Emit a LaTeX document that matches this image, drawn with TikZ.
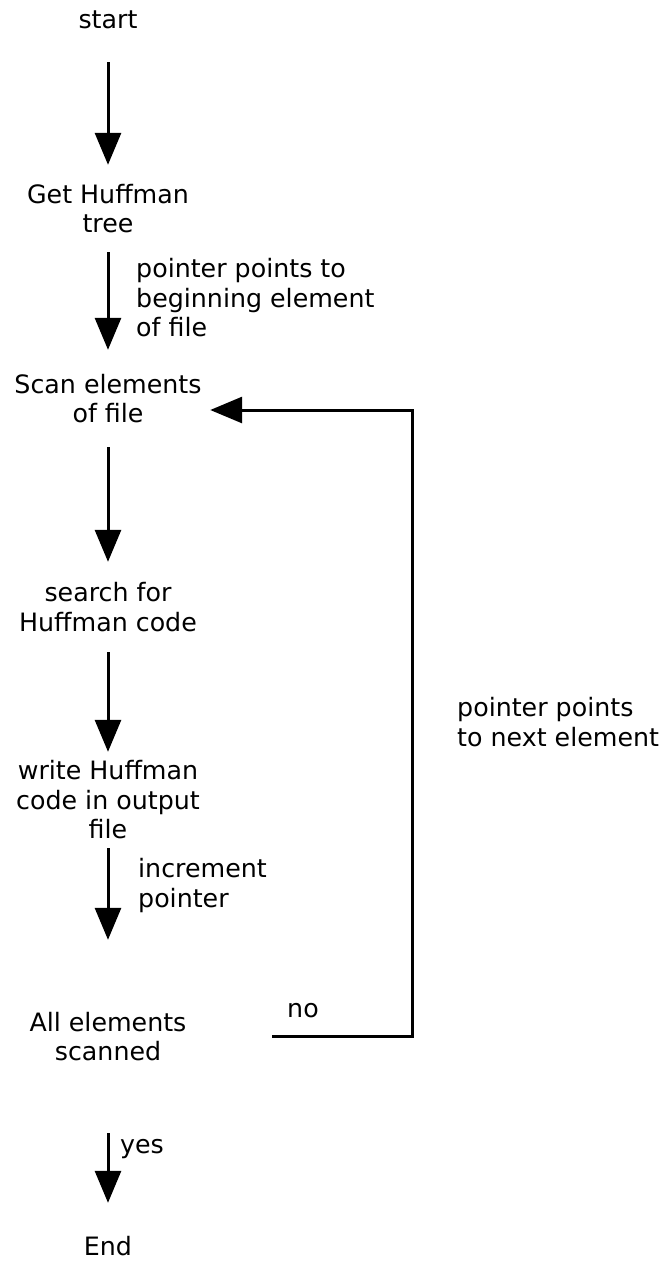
\documentclass[tikz,border=0pt]{standalone}
\usepackage{fontspec}
\setmainfont{DejaVu Sans}
\usetikzlibrary{arrows.meta}

\begin{document}
\begin{tikzpicture}[x=1pt, y=-1pt,
  txt/.style={font=\fontsize{25.3}{29.5}\selectfont, inner sep=0pt, align=center},
  stepbox/.style={txt, minimum height=#1},
  lbl/.style={txt, align=left, anchor=west},
  flow/.style={line width=3pt, -{Triangle[width=26pt, length=32pt]}},
]
  \useasboundingbox (0,0) rectangle (669,1262);

  % process steps, each box spans the gap between its arrows
  \node[stepbox=84pt]  (start)  at (108,20)    {start};
  \node[stepbox=87pt]  (huff)   at (108,208.5) {Get Huffman\\tree};
  \node[stepbox=97pt]  (scan)   at (108,398.5) {Scan elements\\of file};
  \node[stepbox=90pt]  (search) at (108,607)   {search for\\Huffman code};
  \node[stepbox=96pt]  (write)  at (108,800)   {write Huffman\\code in output\\file};
  \node[stepbox=193pt] (allel)  at (108,1036.5){All elements\\scanned};
  \node[stepbox=86pt]  (endn)   at (108,1246)  {End};

  % main flow
  \draw[flow] (start) -- (huff);
  \draw[flow] (huff) -- (scan);
  \draw[flow] (scan) -- (search);
  \draw[flow] (search) -- (write);
  \draw[flow] (write) -- (allel);
  \draw[flow] (allel) -- (endn);

  % loop back to scanning
  \coordinate (loopR) at (412,410);
  \draw[flow, shorten <=85.5pt, shorten >=8.5pt] (allel.east) -| (loopR) -- (scan.east |- loopR);

  % edge labels
  \node[lbl] (lptr)  at (136,298)  {pointer points to\\beginning element\\of file};
  \node[lbl] (linc)  at (138,885.5){increment\\pointer};
  \node[lbl] (lnext) at (457,722)  {pointer points\\to next element};
  \node[txt] (lno)   at (303,1011) {no};
  \node[lbl] (lyes)  at (120,1149) {yes};
\end{tikzpicture}
\end{document}
